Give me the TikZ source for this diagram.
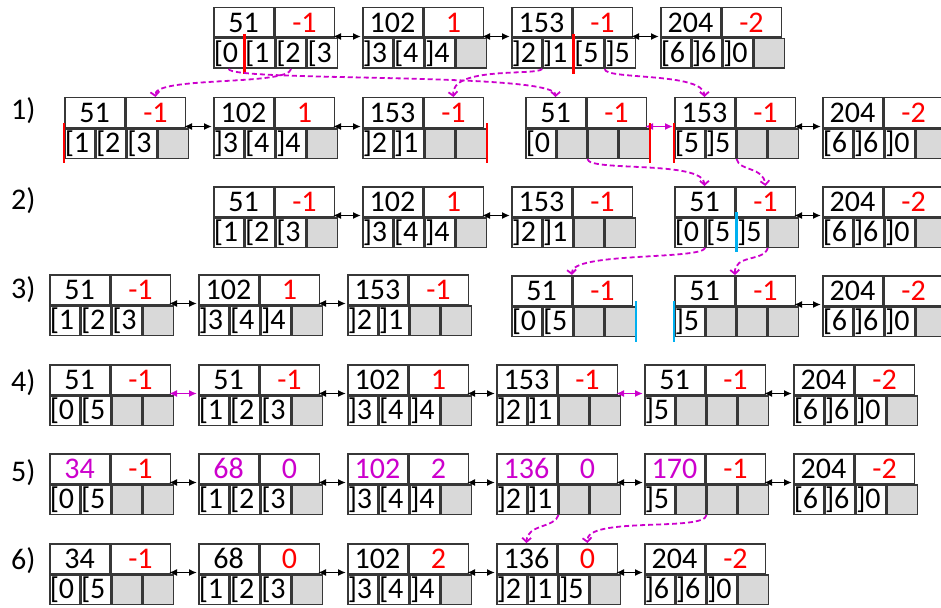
\documentclass[tikz,border=0pt]{standalone}
\usepackage{fontspec}
\setmainfont{Carlito}
\usetikzlibrary{arrows.meta}
\definecolor{mag}{RGB}{204,0,204}
\definecolor{cellgrey}{RGB}{217,217,217}
\definecolor{cyanmark}{RGB}{0,176,240}
\definecolor{framec}{RGB}{55,55,55}
\newcommand\cellfont{\fontsize{30}{32}\selectfont}
\newcommand\redtxt[1]{\textcolor{red}{#1}}
\newcommand\magtxt[1]{\textcolor{mag}{#1}}
\newcommand\cellnode[3]{%
  \if\relax\detokenize{#3}\relax
    \node[cellbox,fill=cellgrey,anchor=north west] (#1) at (#2) {};
  \else
    \node[cellbox,anchor=north west] (#1) at (#2) {\leavevmode#3};
  \fi}
\newcommand\blk[9]{%
  \node[blockbox,anchor=north west] (#1) at (#2,#3) {};
  \node[halfbox,anchor=north west] (#1tl) at (#2,#3) {#4};
  \node[halfbox,anchor=north west] (#1tr) at (#1tl.north east) {#5};
  \cellnode{#1c1}{#1tl.south west}{#6}
  \cellnode{#1c2}{#1c1.north east}{#7}
  \cellnode{#1c3}{#1c2.north east}{#8}
  \cellnode{#1c4}{#1c3.north east}{#9}}
\tikzset{
  blockbox/.style={inner sep=0pt,outer sep=0pt,minimum width=119pt,minimum height=59pt},
  halfbox/.style={draw=framec,line width=1.5pt,inner sep=0pt,minimum width=59.5pt,minimum height=29.5pt,font=\cellfont},
  cellbox/.style={draw=framec,line width=1.5pt,inner xsep=0pt,inner ysep=0pt,text width=29.75pt,minimum height=29.5pt,align=left,font=\cellfont},
  link/.style={>={Latex[length=8pt,width=7pt]},<->,line width=1.6pt,black,shorten <=1pt,shorten >=1pt},
  maglink/.style={>={Latex[length=8pt,width=7pt]},<->,line width=1.6pt,mag,shorten <=1pt,shorten >=1pt},
  flow/.style={mag,line width=1.8pt,dash pattern=on 5pt off 3pt,-{Straight Barb[length=4pt,width=9pt]}},
  redmark/.style={red,line width=2.5pt},
  cyanline/.style={cyanmark,line width=2.5pt},
  lbl/.style={font=\cellfont,inner sep=0pt,anchor=west}
}
\begin{document}
\begin{tikzpicture}[x=1pt,y=-1pt]
\useasboundingbox (0,0) rectangle (941,607);
% labels
\node[lbl] (l1) at (11,111) {1)};
\node[lbl] (l2) at (11,201) {2)};
\node[lbl] (l3) at (11,290) {3)};
\node[lbl] (l4) at (11,383) {4)};
\node[lbl] (l5) at (11,473) {5)};
\node[lbl] (l6) at (11,561) {6)};
% row 0
\blk{r0b1}{213}{7}{51}{\redtxt{-1}}{[0}{[1}{[2}{[3}
\blk{r0b2}{362}{7}{102}{\redtxt{1}}{]3}{[4}{]4}{}
\blk{r0b3}{511}{7}{153}{\redtxt{-1}}{]2}{]1}{[5}{]5}
\blk{r0b4}{660}{7}{204}{\redtxt{-2}}{[6}{]6}{]0}{}
\draw[link] (r0b1.east) -- (r0b2.west);
\draw[link] (r0b2.east) -- (r0b3.west);
\draw[link] (r0b3.east) -- (r0b4.west);
\draw[redmark] ([yshift=4pt]r0b1c1.north east) -- ([yshift=-5pt]r0b1c1.south east);
\draw[redmark] ([yshift=4pt]r0b3c2.north east) -- ([yshift=-5pt]r0b3c2.south east);
% row 1
\blk{r1b1}{64}{97}{51}{\redtxt{-1}}{[1}{[2}{[3}{}
\blk{r1b2}{213}{97}{102}{\redtxt{1}}{]3}{[4}{]4}{}
\blk{r1b3}{362}{97}{153}{\redtxt{-1}}{]2}{]1}{}{}
\blk{r1b4}{525}{97}{51}{\redtxt{-1}}{[0}{}{}{}
\blk{r1b5}{674}{97}{153}{\redtxt{-1}}{[5}{]5}{}{}
\blk{r1b6}{822}{97}{204}{\redtxt{-2}}{[6}{]6}{]0}{}
\draw[link] (r1b1.east) -- (r1b2.west);
\draw[link] (r1b2.east) -- (r1b3.west);
\draw[maglink] (r1b4.east) -- (r1b5.west);
\draw[link] (r1b5.east) -- (r1b6.west);
\draw[redmark] ([yshift=5pt]r1b1c1.north west) -- ([yshift=-4pt]r1b1c1.south west);
\draw[redmark] ([yshift=5pt]r1b3c4.north east) -- ([yshift=-4pt]r1b3c4.south east);
\draw[redmark] ([yshift=5pt]r1b4c4.north east) -- ([yshift=-4pt]r1b4c4.south east);
\draw[redmark] ([yshift=5pt]r1b5c1.north west) -- ([yshift=-4pt]r1b5c1.south west);
% row 2
\blk{r2b1}{213}{186}{51}{\redtxt{-1}}{[1}{[2}{[3}{}
\blk{r2b2}{362}{186}{102}{\redtxt{1}}{]3}{[4}{]4}{}
\blk{r2b3}{511}{186}{153}{\redtxt{-1}}{]2}{]1}{}{}
\blk{r2b4}{674}{186}{51}{\redtxt{-1}}{[0}{[5}{]5}{}
\blk{r2b5}{822}{186}{204}{\redtxt{-2}}{[6}{]6}{]0}{}
\draw[link] (r2b1.east) -- (r2b2.west);
\draw[link] (r2b2.east) -- (r2b3.west);
\draw[link] (r2b4.east) -- (r2b5.west);
\draw[cyanline] ([yshift=5pt]r2b4c2.north east) -- ([yshift=-4pt]r2b4c2.south east);
% row 3
\blk{r3b1}{49}{274}{51}{\redtxt{-1}}{[1}{[2}{[3}{}
\blk{r3b2}{198}{274}{102}{\redtxt{1}}{]3}{[4}{]4}{}
\blk{r3b3}{347}{274}{153}{\redtxt{-1}}{]2}{]1}{}{}
\blk{r3b4}{511}{275}{51}{\redtxt{-1}}{[0}{[5}{}{}
\blk{r3b5}{674}{275}{51}{\redtxt{-1}}{]5}{}{}{}
\blk{r3b6}{822}{275}{204}{\redtxt{-2}}{[6}{]6}{]0}{}
\draw[link] (r3b1.east) -- (r3b2.west);
\draw[link] (r3b2.east) -- (r3b3.west);
\draw[link] (r3b5.east) -- (r3b6.west);
\draw[cyanline] ([yshift=5pt]r3b4c4.north east) -- ([yshift=-5pt]r3b4c4.south east);
\draw[cyanline] ([yshift=5pt]r3b5c1.north west) -- ([yshift=-5pt]r3b5c1.south west);
% row 4
\blk{r4b1}{49}{364}{51}{\redtxt{-1}}{[0}{[5}{}{}
\blk{r4b2}{198}{364}{51}{\redtxt{-1}}{[1}{[2}{[3}{}
\blk{r4b3}{347}{364}{102}{\redtxt{1}}{]3}{[4}{]4}{}
\blk{r4b4}{496}{364}{153}{\redtxt{-1}}{]2}{]1}{}{}
\blk{r4b5}{644}{364}{51}{\redtxt{-1}}{]5}{}{}{}
\blk{r4b6}{793}{364}{204}{\redtxt{-2}}{[6}{]6}{]0}{}
\draw[maglink] (r4b1.east) -- (r4b2.west);
\draw[link] (r4b2.east) -- (r4b3.west);
\draw[link] (r4b3.east) -- (r4b4.west);
\draw[maglink] (r4b4.east) -- (r4b5.west);
\draw[link] (r4b5.east) -- (r4b6.west);
% row 5
\blk{r5b1}{49}{453}{\magtxt{34}}{\redtxt{-1}}{[0}{[5}{}{}
\blk{r5b2}{198}{453}{\magtxt{68}}{\magtxt{0}}{[1}{[2}{[3}{}
\blk{r5b3}{347}{453}{\magtxt{102}}{\magtxt{2}}{]3}{[4}{]4}{}
\blk{r5b4}{496}{453}{\magtxt{136}}{\magtxt{0}}{]2}{]1}{}{}
\blk{r5b5}{644}{453}{\magtxt{170}}{\redtxt{-1}}{]5}{}{}{}
\blk{r5b6}{793}{453}{204}{\redtxt{-2}}{[6}{]6}{]0}{}
\draw[link] (r5b1.east) -- (r5b2.west);
\draw[link] (r5b2.east) -- (r5b3.west);
\draw[link] (r5b3.east) -- (r5b4.west);
\draw[link] (r5b4.east) -- (r5b5.west);
\draw[link] (r5b5.east) -- (r5b6.west);
% row 6
\blk{r6b1}{49}{543}{34}{\redtxt{-1}}{[0}{[5}{}{}
\blk{r6b2}{198}{543}{68}{\redtxt{0}}{[1}{[2}{[3}{}
\blk{r6b3}{347}{543}{102}{\redtxt{2}}{]3}{[4}{]4}{}
\blk{r6b4}{496}{543}{136}{\redtxt{0}}{]2}{]1}{]5}{}
\blk{r6b5}{644}{543}{204}{\redtxt{-2}}{]6}{]6}{]0}{}
\draw[link] (r6b1.east) -- (r6b2.west);
\draw[link] (r6b2.east) -- (r6b3.west);
\draw[link] (r6b3.east) -- (r6b4.west);
\draw[link] (r6b4.east) -- (r6b5.west);
% dashed moves
\draw[flow] (r0b1c3.south) .. controls (288,86) and (153,76) .. (r1b1tr.north);
\draw[flow] (r0b1c1.south) .. controls (232,82) and (556,72) .. (r1b4tl.north);
\draw[flow] (r0b3c1.south east) .. controls (536,76) and (450,66) .. (r1b3tr.north);
\draw[flow] (r0b3c3.south east) .. controls (604,80) and (704,72) .. (r1b5tl.north);
\draw[flow] (r1b4c2.south east) .. controls (588,172) and (704,160) .. (r2b4tl.north);
\draw[flow] (r1b5c2.south east) .. controls (740,172) and (763,166) .. (r2b4tr.north);
\draw[flow] (r2b4c1.south east) .. controls (700,260) and (570,252) .. (r3b4tl.north east);
\draw[flow] (r2b4c3.south east) .. controls (764,262) and (734,254) .. (r3b5tl.north east);
\draw[flow] (r5b4c2.south east) .. controls (555,528) and (527,524) .. (r6b4tl.north);
\draw[flow] (r5b5c2.south east) .. controls (705,532) and (585,516) .. (r6b4tr.north);
\end{tikzpicture}
\end{document}
